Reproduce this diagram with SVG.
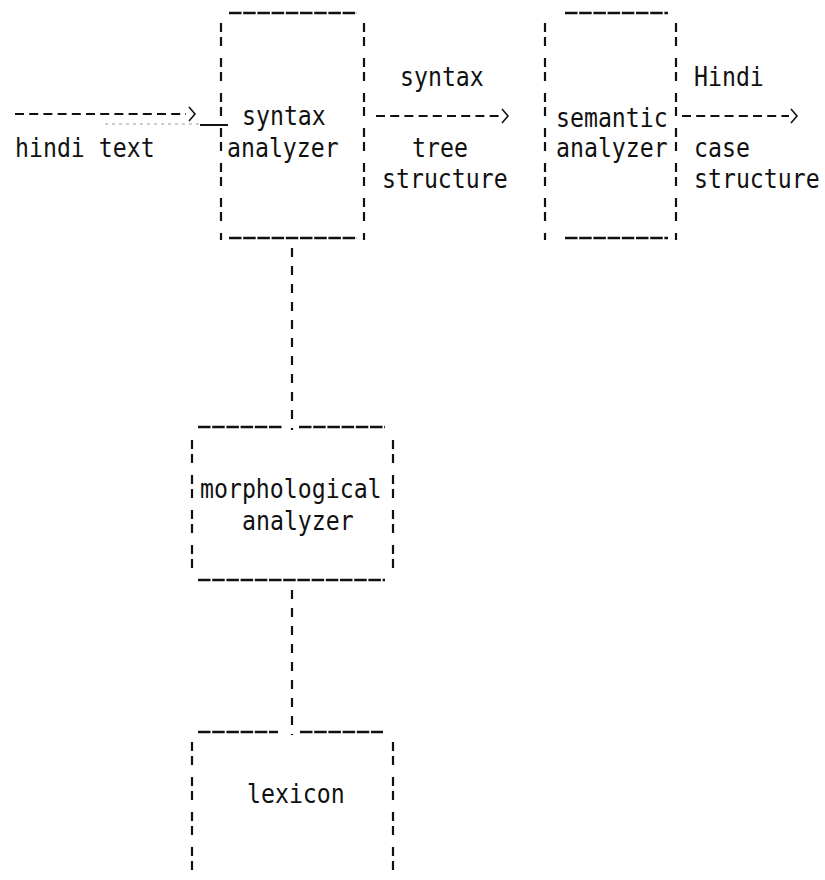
<svg xmlns="http://www.w3.org/2000/svg" width="825" height="880" viewBox="0 0 825 880">
<style>
.t{font-family:"DejaVu Sans Mono","Liberation Mono",monospace;font-size:23.2px;fill:#111;}
.h{stroke:#111;stroke-width:2.4;fill:none;stroke-dasharray:12.5 1.7;}
.v{stroke:#111;stroke-width:2.2;fill:none;stroke-dasharray:9 5 9 12;}
.c{stroke:#111;stroke-width:2.2;fill:none;stroke-dasharray:9 9;}
.a{stroke:#111;stroke-width:2;fill:none;stroke-dasharray:9 5.2;}
.hd{stroke:#111;stroke-width:1.6;fill:none;}
</style>
<rect width="825" height="880" fill="#fff"/>

<g id="node-syntax-analyzer">
  <line class="h" x1="229" y1="13" x2="357" y2="13"/>
  <line class="v" x1="221" y1="23" x2="221" y2="240"/>
  <line class="v" x1="364" y1="23" x2="364" y2="240"/>
  <line class="h" x1="229" y1="238" x2="357" y2="238"/>
  <text class="t" transform="translate(242,125) scale(1,1.15)">syntax</text>
  <text class="t" transform="translate(227,157) scale(1,1.15)">analyzer</text>
</g>

<g id="node-semantic-analyzer">
  <line class="h" x1="565" y1="13" x2="668" y2="13"/>
  <line class="v" x1="545" y1="23" x2="545" y2="240"/>
  <line class="v" x1="676" y1="23" x2="676" y2="240"/>
  <line class="h" x1="565" y1="238" x2="668" y2="238"/>
  <text class="t" transform="translate(556,127) scale(1,1.15)">semantic</text>
  <text class="t" transform="translate(556,157) scale(1,1.15)">analyzer</text>
</g>

<g id="node-morphological-analyzer">
  <line class="h" x1="198" y1="427" x2="283" y2="427"/>
  <line class="h" x1="299" y1="427" x2="385" y2="427"/>
  <line class="v" x1="192" y1="440" x2="192" y2="580"/>
  <line class="v" x1="393" y1="440" x2="393" y2="580"/>
  <line class="h" x1="198" y1="580" x2="385" y2="580"/>
  <text class="t" transform="translate(200,498) scale(1,1.15)">morphological</text>
  <text class="t" transform="translate(242,530) scale(1,1.15)">analyzer</text>
</g>

<g id="node-lexicon">
  <line class="h" x1="198" y1="732" x2="278" y2="732"/>
  <line class="h" x1="300" y1="732" x2="383" y2="732"/>
  <line class="v" x1="192" y1="742" x2="192" y2="880"/>
  <line class="v" x1="393" y1="742" x2="393" y2="880"/>
  <text class="t" transform="translate(247,803) scale(1,1.15)">lexicon</text>
</g>

<g id="connectors">
  <line class="a" x1="15" y1="114" x2="186" y2="114"/>
  <polyline class="hd" points="189,107 195,114 189,121"/>
  <line x1="105" y1="124" x2="200" y2="124" stroke="#999" stroke-width="1" stroke-dasharray="3 4"/>
  <line x1="200" y1="125" x2="228" y2="125" stroke="#111" stroke-width="2"/>
  <line class="a" x1="376" y1="116" x2="500" y2="116"/>
  <polyline class="hd" points="502,109 508,116 502,123"/>
  <line class="a" x1="682" y1="116" x2="789" y2="116"/>
  <polyline class="hd" points="791,109 797,116 791,123"/>
  <line class="c" x1="292" y1="248" x2="292" y2="430"/>
  <line class="c" x1="292" y1="590" x2="292" y2="735"/>
</g>

<g id="labels">
  <text class="t" transform="translate(15,157) scale(1,1.15)">hindi text</text>
  <text class="t" transform="translate(400,86) scale(1,1.15)">syntax</text>
  <text class="t" transform="translate(412,157) scale(1,1.15)">tree</text>
  <text class="t" transform="translate(382,188) scale(1,1.15)">structure</text>
  <text class="t" transform="translate(694,86) scale(1,1.15)">Hindi</text>
  <text class="t" transform="translate(694,157) scale(1,1.15)">case</text>
  <text class="t" transform="translate(694,188) scale(1,1.15)">structure</text>
</g>
</svg>
